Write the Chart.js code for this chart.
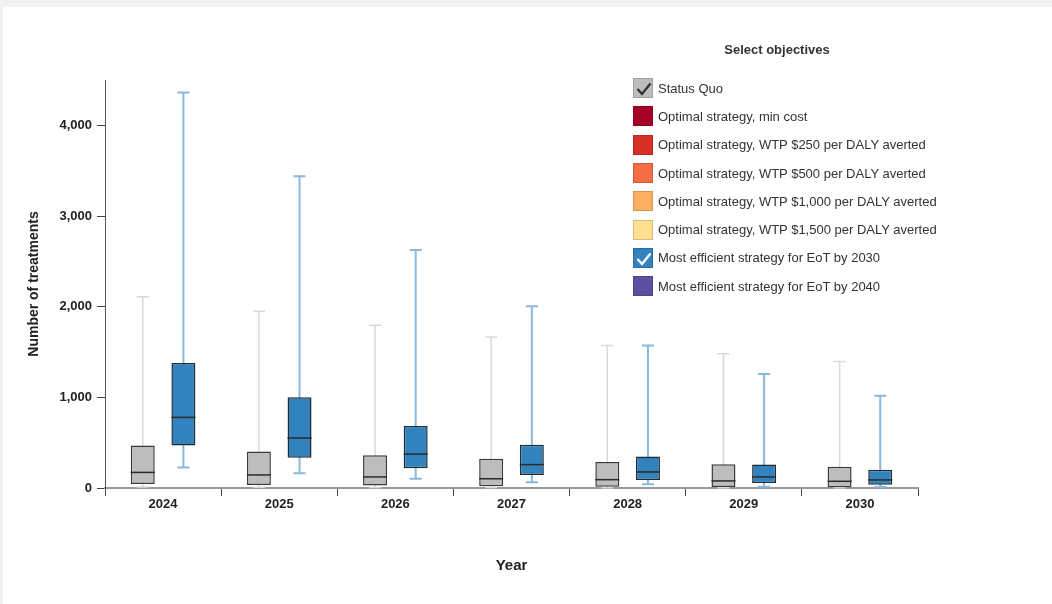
<!DOCTYPE html>
<html>
<head>
<meta charset="utf-8">
<script src="https://cdn.jsdelivr.net/npm/chart.js@4.4.1/dist/chart.umd.min.js"></script>
<style>
  body { margin: 0; background: #f2f2f2; overflow: hidden; font-family: "Liberation Sans", Arial, sans-serif; }
  #panel { position: absolute; left: 3px; top: 7px; width: 1049px; height: 597px; background: #fff; }
  #legend { position: absolute; left: 630px; top: 40px; width: 330px; color: #333; font-size: 13px; }
  #legend .title { font-weight: bold; text-align: center; width: 294px; height: 20px; line-height: 20px; }
  #legend .row { display: flex; align-items: center; height: 28.3px; }
  #legend .sw { width: 20px; height: 20px; margin-left: 3px; margin-right: 5px; box-sizing: border-box; border: 1px solid rgba(0,0,0,0.15); position: relative; }
  #legend .sw svg { position: absolute; left: 0; top: 0; }
</style>
</head>
<body>
<div id="panel">
  <canvas id="chartTratamientos"></canvas>
</div>
<div id="legend">
  <div class="title">Select objectives</div>
  <div id="legendRows" style="margin-top:14px"></div>
</div>
<script>
const years = ['2024', '2025', '2026', '2027', '2028', '2029', '2030'];

// Status Quo
const sqMin = [10, 8, 6, 5, 4, 3, 2];
const sqQ1 = [45, 33, 28, 20, 14, 11, 8];
const sqMed = [172, 144, 122, 102, 92, 78, 74];
const sqQ3 = [468, 403, 362, 322, 288, 263, 233];
const sqMax = [2109, 1949, 1794, 1665, 1572, 1480, 1395];

// Most efficient strategy for EoT by 2030
const eotMin = [225, 163, 103, 63, 41, 14, 11];
const eotQ1 = [468, 333, 218, 144, 89, 55, 37];
const eotMed = [779, 551, 374, 258, 177, 122, 89];
const eotQ3 = [1378, 1001, 684, 477, 347, 258, 200];
const eotMax = [4363, 3439, 2625, 2004, 1572, 1258, 1018];

const yTicks = [0, 1000, 2000, 3000, 4000];

const legendNames = ['Status Quo', 'Optimal strategy, min cost', 'Optimal strategy, WTP $250 per DALY averted',
  'Optimal strategy, WTP $500 per DALY averted', 'Optimal strategy, WTP $1,000 per DALY averted',
  'Optimal strategy, WTP $1,500 per DALY averted', 'Most efficient strategy for EoT by 2030',
  'Most efficient strategy for EoT by 2040'];
const legendColors = ['#bdbdbd', '#a50026', '#d73027', '#f46d43', '#fdae61', '#fee090', '#3182bd', '#5e4fa2'];
const legendChecked = [true, false, false, false, false, false, true, false];

// legend (html)
const rows = document.getElementById('legendRows');
legendNames.forEach((name, i) => {
  const row = document.createElement('div');
  row.className = 'row';
  const sw = document.createElement('div');
  sw.className = 'sw';
  sw.style.background = legendColors[i];
  if (legendChecked[i]) {
    const stroke = i === 0 ? '#333' : '#fff';
    sw.innerHTML = '<svg width="20" height="20"><polyline points="3.5,10 8,15 16.5,4.5" fill="none" stroke="' + stroke + '" stroke-width="2.4"/></svg>';
  }
  const txt = document.createElement('span');
  txt.textContent = name;
  row.appendChild(sw);
  row.appendChild(txt);
  rows.appendChild(row);
});

const stats = [
  { min: sqMin, med: sqMed, max: sqMax, whisker: '#d9d9d9', width: 1.5 },
  { min: eotMin, med: eotMed, max: eotMax, whisker: '#8ab8dc', width: 2 }
];

const boxPlugin = {
  id: 'boxWhiskers',
  beforeDatasetsDraw(chart) {
    const c = chart.ctx;
    const y = chart.scales.y;
    stats.forEach((s, i) => {
      chart.getDatasetMeta(i).data.forEach((bar, j) => {
        const top = y.getPixelForValue(s.max[j]);
        const bot = y.getPixelForValue(s.min[j]);
        c.save();
        c.strokeStyle = s.whisker;
        c.lineWidth = s.width;
        c.beginPath();
        c.moveTo(bar.x, bot);
        c.lineTo(bar.x, top);
        c.moveTo(bar.x - 6, top);
        c.lineTo(bar.x + 6, top);
        c.moveTo(bar.x - 6, bot);
        c.lineTo(bar.x + 6, bot);
        c.stroke();
        c.restore();
      });
    });
  },
  afterDatasetsDraw(chart) {
    const c = chart.ctx;
    const y = chart.scales.y;
    stats.forEach((s, i) => {
      chart.getDatasetMeta(i).data.forEach((bar, j) => {
        const py = y.getPixelForValue(s.med[j]);
        c.save();
        c.strokeStyle = '#2a2a2a';
        c.lineWidth = 1.5;
        c.beginPath();
        c.moveTo(bar.x - bar.width / 2, py);
        c.lineTo(bar.x + bar.width / 2, py);
        c.stroke();
        c.restore();
      });
    });
  }
};

const ctx = document.getElementById('chartTratamientos');

new Chart(ctx, {
  type: 'bar',
  data: {
    labels: years,
    datasets: [{
      label: 'Status Quo',
      data: sqQ1.map((v, i) => [v, sqQ3[i]]),
      backgroundColor: '#bdbdbd',
      borderColor: '#3a3a3a',
      borderWidth: 1.5,
      borderSkipped: false
    }, {
      label: 'Most efficient strategy for EoT by 2030',
      data: eotQ1.map((v, i) => [v, eotQ3[i]]),
      backgroundColor: '#3182bd',
      borderColor: '#1f2a33',
      borderWidth: 1.5,
      borderSkipped: false
    }]
  },
  options: {
    responsive: true,
    maintainAspectRatio: false,
    animation: false,
    categoryPercentage: 0.7,
    barPercentage: 0.59,
    layout: {
      padding: { left: 20, right: 134, top: 73, bottom: 0 }
    },
    plugins: {
      legend: { display: false },
      tooltip: { enabled: false }
    },
    scales: {
      x: {
        afterFit(scale) { scale.height = 116; },
        grid: { drawOnChartArea: false, tickLength: 8, color: '#444', offset: true },
        border: { color: '#999', width: 2 },
        ticks: { padding: 1, color: '#222', font: { family: 'Liberation Sans', size: 13, weight: 'bold' } },
        title: {
          display: true,
          text: 'Year',
          color: '#222',
          padding: { top: 0, bottom: 29 },
          font: { family: 'Liberation Sans', size: 15, weight: 'bold' }
        }
      },
      y: {
        min: 0,
        max: 4500,
        afterFit(scale) { scale.width = 82; },
        afterBuildTicks(scale) { scale.ticks = yTicks.map(v => ({ value: v })); },
        grid: { drawOnChartArea: false, tickLength: 8, color: '#444' },
        border: { color: '#555', width: 1 },
        ticks: {
          padding: 5,
          color: '#222',
          font: { family: 'Liberation Sans', size: 13, weight: 'bold' },
          callback: v => v.toLocaleString('en-US')
        },
        title: {
          display: true,
          text: 'Number of treatments',
          color: '#222',
          padding: { top: 3, bottom: 0 },
          font: { family: 'Liberation Sans', size: 14, weight: 'bold' }
        }
      }
    }
  },
  plugins: [boxPlugin]
});
</script>
</body>
</html>
